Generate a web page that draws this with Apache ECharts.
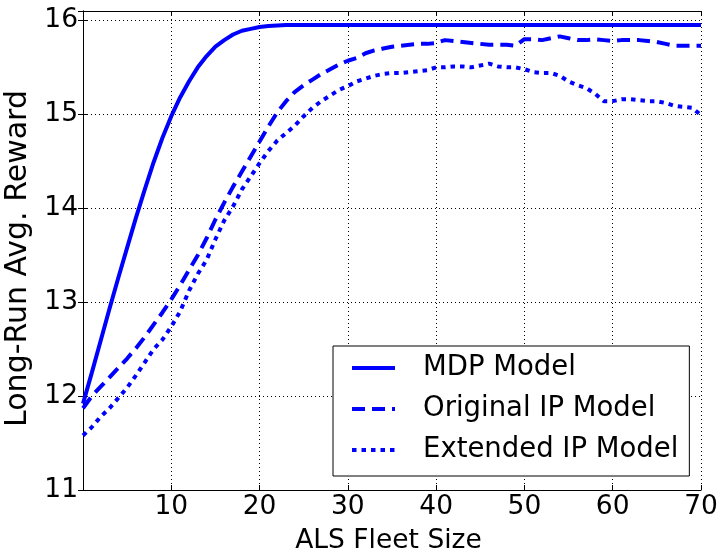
<!DOCTYPE html>
<html>
<head>
<meta charset="utf-8">
<script src="https://cdn.jsdelivr.net/npm/echarts@6/dist/echarts.min.js"></script>
<style>
html,body{margin:0;padding:0;background:#fff;}
#chart{width:722px;height:556px;}
</style>
</head>
<body>
<div id="chart"></div>
<script>
// ALS fleet sizes (x values)
const fleetSize = [0,1,2,3,4,5,6,7,8,9,10,11,12,13,14,15,16,17,18,19,20,21,22,23,24,25,26,27,28,29,30,31,32,33,34,35,36,37,38,39,40,41,42,43,44,45,46,47,48,49,50,51,52,53,54,55,56,57,58,59,60,61,62,63,64,65,66,67,68,69,70];
const mdpModel = [11.92,12.25,12.59,12.93,13.26,13.58,13.9,14.2,14.49,14.75,14.98,15.18,15.35,15.5,15.62,15.72,15.79,15.85,15.89,15.91,15.93,15.94,15.945,15.95,15.95,15.95,15.95,15.95,15.95,15.95,15.95,15.95,15.95,15.95,15.95,15.95,15.95,15.95,15.95,15.95,15.95,15.95,15.95,15.95,15.95,15.95,15.95,15.95,15.95,15.95,15.95,15.95,15.95,15.95,15.95,15.95,15.95,15.95,15.95,15.95,15.95,15.95,15.95,15.95,15.95,15.95,15.95,15.95,15.95,15.95,15.95];
const originalIP = [11.87,12.0,12.1,12.2,12.3,12.4,12.51,12.63,12.76,12.89,13.03,13.18,13.34,13.5,13.68,13.88,14.06,14.23,14.39,14.55,14.71,14.87,15.02,15.14,15.24,15.31,15.37,15.43,15.48,15.53,15.57,15.6,15.65,15.68,15.7,15.72,15.73,15.74,15.75,15.75,15.76,15.79,15.78,15.77,15.76,15.75,15.74,15.74,15.74,15.73,15.8,15.8,15.79,15.81,15.83,15.81,15.79,15.79,15.8,15.79,15.78,15.79,15.79,15.79,15.78,15.77,15.75,15.73,15.73,15.73,15.73];
const extendedIP = [11.58,11.67,11.78,11.87,11.98,12.09,12.22,12.36,12.5,12.6,12.74,12.9,13.12,13.3,13.45,13.67,13.87,14.02,14.2,14.34,14.48,14.61,14.72,14.8,14.88,14.98,15.07,15.14,15.2,15.26,15.3,15.35,15.38,15.41,15.43,15.44,15.44,15.45,15.46,15.47,15.5,15.5,15.51,15.51,15.5,15.52,15.54,15.51,15.5,15.5,15.48,15.45,15.44,15.44,15.41,15.35,15.31,15.28,15.22,15.14,15.14,15.16,15.16,15.15,15.14,15.14,15.12,15.09,15.08,15.07,14.99];
const xTickLabels = [10,20,30,40,50,60,70];
const yTickLabels = [11,12,13,14,15,16];
const seriesNames = ['MDP Model','Original IP Model','Extended IP Model'];

const FONT = 'DejaVu Sans';
const BLUE = '#0000ff';
const pairs = ys => fleetSize.map((x,i)=>[x, ys[i]]);

const chart = echarts.init(document.getElementById('chart'), null, {renderer:'canvas'});
const baseX = {type:'value', min:0, max:70, interval:10};
const baseY = {type:'value', min:11, max:16.1, interval:1};
chart.setOption({
  animation:false,
  backgroundColor:'#fff',
  grid:{left:83, right:21, top:11, bottom:66, containLabel:false, outerBoundsMode:'none'},
  xAxis:[
    Object.assign({}, baseX, {
      position:'bottom',
      name:'ALS Fleet Size', nameLocation:'middle', nameGap:38,
      nameTextStyle:{fontFamily:FONT, fontSize:26.5, color:'#000', padding:[0,7,0,0]},
      axisLine:{show:true, lineStyle:{color:'#000', width:1}},
      axisTick:{show:true, inside:true, length:5, lineStyle:{color:'#000'}},
      axisLabel:{fontFamily:FONT, fontSize:26.5, color:'#000', margin:4, hideOverlap:false,
        formatter: v => xTickLabels.indexOf(v) >= 0 ? String(v) : ''},
      splitLine:{show:true, lineStyle:{color:'#000', width:1, type:[1,3]}}
    }),
    Object.assign({}, baseX, {
      position:'top',
      axisLine:{show:true, lineStyle:{color:'#000', width:1}},
      axisTick:{show:true, inside:true, length:5, lineStyle:{color:'#000'}},
      axisLabel:{show:false}, splitLine:{show:false}
    })
  ],
  yAxis:[
    Object.assign({}, baseY, {
      position:'left',
      name:'Long-Run Avg. Reward', nameLocation:'middle', nameGap:41, nameRotate:90,
      nameTextStyle:{fontFamily:FONT, fontSize:30, color:'#000', padding:[0,16,0,0]},
      axisLine:{show:true, lineStyle:{color:'#000', width:1}},
      axisTick:{show:true, inside:true, length:5, lineStyle:{color:'#000'}},
      axisLabel:{fontFamily:FONT, fontSize:26.5, color:'#000', margin:5, hideOverlap:false,
        formatter: v => yTickLabels.indexOf(v) >= 0 ? String(v) : ''},
      splitLine:{show:true, lineStyle:{color:'#000', width:1, type:[1,3]}}
    }),
    Object.assign({}, baseY, {
      position:'right',
      axisLine:{show:true, lineStyle:{color:'#000', width:1}},
      axisTick:{show:true, inside:true, length:5, lineStyle:{color:'#000'}},
      axisLabel:{show:false}, splitLine:{show:false}
    })
  ],
  legend:{
    orient:'vertical', left:333, top:346,
    backgroundColor:'#fff', borderColor:'#000', borderWidth:1, borderRadius:0,
    padding:[7,11,11,17], itemGap:11, itemWidth:43, itemHeight:14,
    itemStyle:{opacity:0},
    lineStyle:{width:4},
    textStyle:{fontFamily:FONT, fontSize:27.5, color:'#000', lineHeight:30, padding:[0,0,0,23]},
    data:seriesNames
  },
  series:[
    {name:seriesNames[0], type:'line', data:pairs(mdpModel), symbol:'none', showSymbol:false,
      lineStyle:{color:BLUE, width:4, type:'solid'}, itemStyle:{color:BLUE}},
    {name:seriesNames[1], type:'line', data:pairs(originalIP), symbol:'none', showSymbol:false,
      lineStyle:{color:BLUE, width:4, type:[13,7], cap:'butt'}, itemStyle:{color:BLUE}},
    {name:seriesNames[2], type:'line', data:pairs(extendedIP), symbol:'none', showSymbol:false,
      lineStyle:{color:BLUE, width:4, type:[4.5,5], cap:'butt'}, itemStyle:{color:BLUE}}
  ]
});
</script>
</body>
</html>
